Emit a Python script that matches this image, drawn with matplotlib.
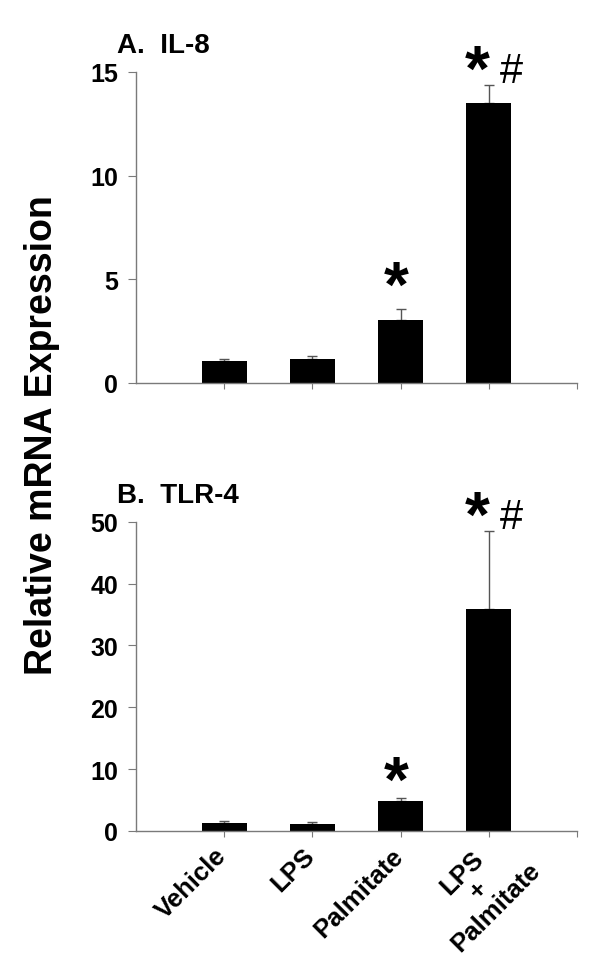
import matplotlib
matplotlib.use("Agg")
import matplotlib.pyplot as plt
import matplotlib.transforms as mtransforms
import numpy as np

plt.rcParams['font.family'] = ['Liberation Sans', 'DejaVu Sans']

groups = ["Vehicle", "LPS", "Palmitate", "LPS\n+\nPalmitate"]

il8_mean = [1.06, 1.14, 3.06, 13.48]
il8_err = [0.10, 0.15, 0.53, 0.88]
il8_ticks = [0, 5, 10, 15]

tlr4_mean = [1.35, 1.08, 4.80, 35.9]
tlr4_err = [0.21, 0.37, 0.48, 12.6]
tlr4_ticks = [0, 10, 20, 30, 40, 50]

# significance marks: (bar index, star, hash)
il8_marks = [(2, True, False), (3, True, True)]
tlr4_marks = [(2, True, False), (3, True, True)]

axis_grey = '#7a7a7a'


def draw_panel(ax, means, errs, ticks, title, marks, star_gap):
    x = np.arange(1, len(means) + 1)
    ax.bar(x, means, width=0.51, color='black', zorder=2)
    ax.errorbar(x, means, yerr=[np.zeros(len(errs)), errs], fmt='none',
                ecolor='#555555', elinewidth=1, capsize=3.5, capthick=1, zorder=1)
    ax.set_xlim(0, len(means) + 1)
    ax.set_ylim(ticks[0], ticks[-1])
    ax.set_yticks(ticks)
    ax.set_xticks(list(x) + [len(means) + 1])
    ax.set_xticklabels([])
    for side in ['top', 'right']:
        ax.spines[side].set_visible(False)
    for side in ['left', 'bottom']:
        ax.spines[side].set_color(axis_grey)
        ax.spines[side].set_linewidth(1)
    ax.tick_params(axis='y', direction='out', length=6, color=axis_grey,
                   labelsize=18, pad=7)
    ax.tick_params(axis='x', direction='out', length=4, color=axis_grey)
    for lab in ax.get_yticklabels():
        lab.set_fontweight('bold')
    ax.text(-0.043, 1.045, title, transform=ax.transAxes, fontsize=20,
            fontweight='bold', ha='left', va='bottom')
    for i, star, hsh in marks:
        top = means[i] + errs[i]
        gap = star_gap[i]
        if star and hsh:
            ax.annotate('*', (x[i], top), xytext=(-12, gap), textcoords='offset pixels',
                        ha='center', va='center', fontsize=46, fontweight='bold',
                        annotation_clip=False)
            ax.annotate('#', (x[i], top), xytext=(23, gap + 2), textcoords='offset pixels',
                        ha='center', va='center', fontsize=30,
                        annotation_clip=False)
        elif star:
            ax.annotate('*', (x[i], top), xytext=(-4, gap), textcoords='offset pixels',
                        ha='center', va='center', fontsize=46, fontweight='bold',
                        annotation_clip=False)


fig = plt.figure(figsize=(6.0, 9.78), dpi=100)
ax1 = fig.add_axes([0.2267, 0.6074, 0.735, 0.318])
ax2 = fig.add_axes([0.2267, 0.1493, 0.735, 0.3162])

draw_panel(ax1, il8_mean, il8_err, il8_ticks, "A.  IL-8", il8_marks,
           {2: 20, 3: 12})
draw_panel(ax2, tlr4_mean, tlr4_err, tlr4_ticks, "B.  TLR-4", tlr4_marks,
           {2: 15, 3: 12})

# category labels, rotated like the Excel original
for i, g in enumerate(groups):
    multi = "\n" in g
    dx, dy = (-10, 8) if multi else (7, -12)
    off = mtransforms.ScaledTranslation(dx / 100, dy / 100, fig.dpi_scale_trans)
    ax2.text(i + 1, 0, g, transform=ax2.get_xaxis_transform() + off,
             rotation=45, ha='center' if multi else 'right', va='top',
             fontsize=18.5, fontweight='bold', multialignment='center',
             linespacing=1.0)

fig.text(0.07, 0.555, "Relative mRNA Expression", rotation=90, fontsize=27,
         fontweight='bold', ha='center', va='center')

fig.savefig("out.png", dpi=100)
